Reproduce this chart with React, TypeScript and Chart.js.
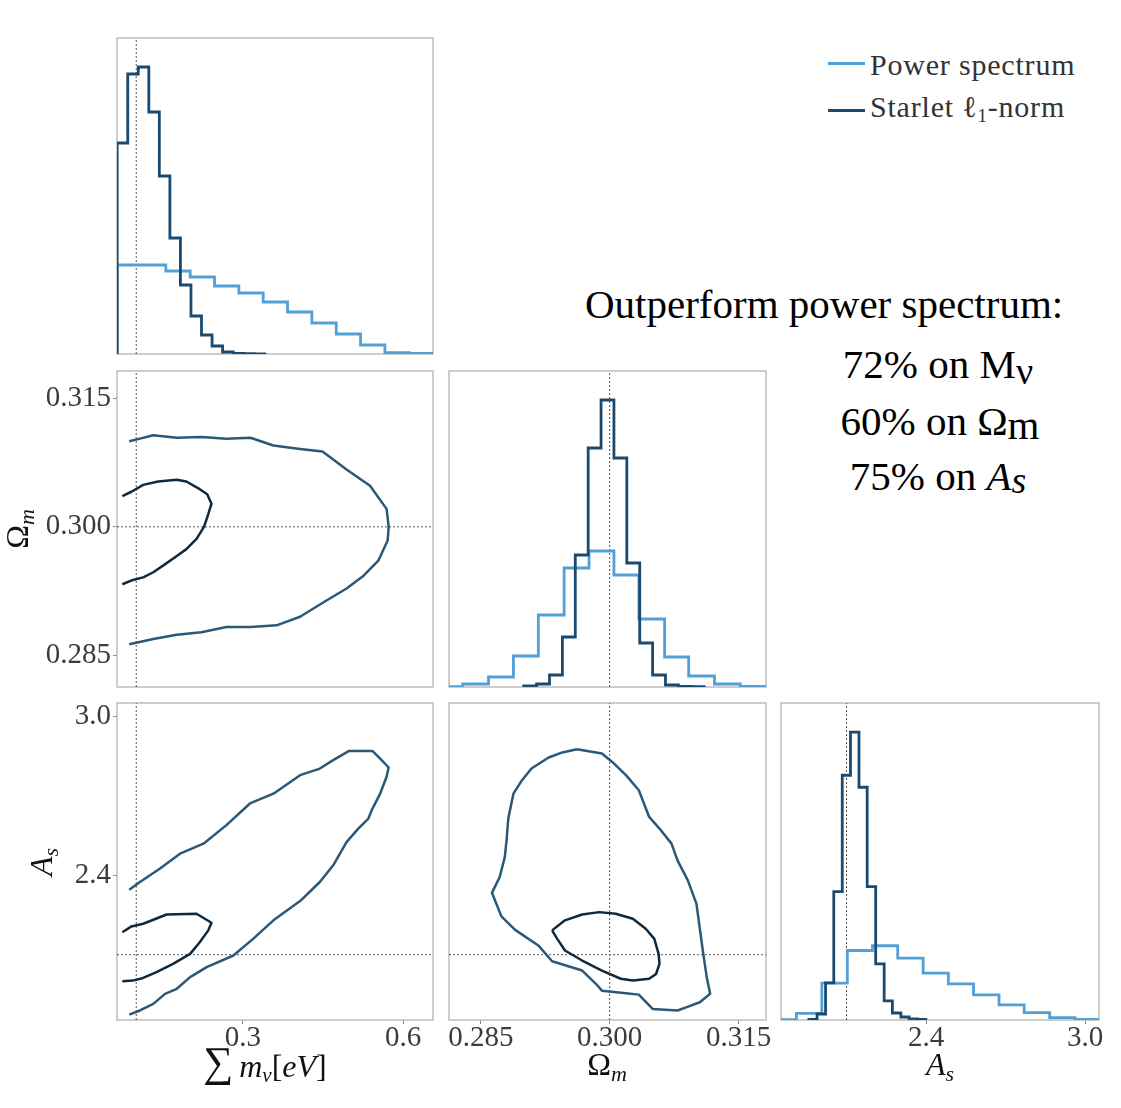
import React, { useEffect, useRef } from "react";
import { Chart, registerables } from "chart.js";

Chart.register(...registerables);

// ---------- colours ----------
const LIGHT = "#52a0d6";
const DARK = "#1b4a70";
const OUTER = "#2b5877";
const INNER = "#0f2a3f";
const TRUTH_COLOR = "#555555";
const FRAME_COLOR = "#bdbdbd";
const TICK_COLOR = "#3c3c3c";
const SERIF = "'Liberation Serif', 'Times New Roman', serif";

// ---------- truth values ----------
const TRUTH_MNU = 0.1;
const TRUTH_OM = 0.3;
const TRUTH_AS = 2.1;

// ---------- axis ranges ----------
const MNU_RANGE: [number, number] = [0.064, 0.656];
const OM_RANGE: [number, number] = [0.2813, 0.3182];
const AS_RANGE: [number, number] = [1.853, 3.052];
const HIST_RANGE: [number, number] = [0, 316];

// ---------- tick labels ----------
const MNU_TICKS = [0.3, 0.6];
const OM_TICKS = [0.285, 0.3, 0.315];
const AS_TICKS = [2.4, 3.0];

// ---------- 1D histograms (bin edges, heights) ----------
const MNU_PS_EDGES = [0.0643, 0.1099, 0.1555, 0.2011, 0.2467, 0.2923, 0.3379, 0.3835, 0.4291, 0.4747, 0.5203, 0.5659, 0.6115, 0.6571];
const MNU_PS_HEIGHTS = [89, 89, 83, 77, 68, 61, 52, 42, 31, 20, 9, 1.3, 0.5];
const MNU_ST_EDGES = [0.0643, 0.0841, 0.1038, 0.1236, 0.1433, 0.1631, 0.1828, 0.2026, 0.2223, 0.2421, 0.2618, 0.2816, 0.3013, 0.3211, 0.3408];
const MNU_ST_HEIGHTS = [211, 280, 287, 242, 178, 116, 69, 38, 19, 8, 2, 0.7, 0.3, 0.2];

const OM_PS_EDGES = [0.28, 0.2829, 0.2859, 0.2888, 0.2917, 0.2947, 0.2976, 0.3005, 0.3034, 0.3064, 0.3092, 0.3122, 0.3152, 0.3181];
const OM_PS_HEIGHTS = [0.3, 3, 10, 31, 72, 119, 136, 112, 68, 30, 11, 3, 0.5];
const OM_ST_EDGES = [0.29, 0.2915, 0.293, 0.2945, 0.296, 0.2975, 0.299, 0.3005, 0.302, 0.3035, 0.305, 0.3065, 0.308, 0.3095, 0.311];
const OM_ST_HEIGHTS = [1, 3, 12, 50, 132, 239, 287, 229, 124, 44, 12, 2, 0.5, 0.3];

const AS_PS_EDGES = [1.816, 1.911, 2.007, 2.103, 2.198, 2.293, 2.389, 2.484, 2.579, 2.675, 2.77, 2.866, 2.961, 3.056];
const AS_PS_HEIGHTS = [0.3, 6.7, 36.7, 69.3, 74, 61.7, 46.7, 36, 25, 15, 7.3, 2.3, 0.7];
const AS_ST_EDGES = [1.958, 1.989, 2.021, 2.052, 2.084, 2.115, 2.147, 2.178, 2.21, 2.242, 2.273, 2.305, 2.336, 2.368, 2.399];
const AS_ST_HEIGHTS = [0.5, 6, 37, 128, 244, 287, 232, 133, 56, 19, 7, 3, 1, 0.5];

// ---------- 2D contours [x, y] ----------
const MNU_OM_OUTER: [number, number][] = [
  [0.087, 0.31], [0.107, 0.3103], [0.132, 0.3107], [0.176, 0.3104], [0.223, 0.3105], [0.269, 0.3103],
  [0.314, 0.3104], [0.357, 0.3095], [0.407, 0.3091], [0.449, 0.3088], [0.494, 0.3067], [0.538, 0.3048],
  [0.569, 0.3021], [0.573, 0.3], [0.571, 0.2984], [0.554, 0.2961], [0.526, 0.2943], [0.494, 0.2928],
  [0.451, 0.2912], [0.407, 0.2895], [0.363, 0.2885], [0.314, 0.2883], [0.269, 0.2883], [0.222, 0.2877],
  [0.176, 0.2874], [0.132, 0.2869], [0.087, 0.2863],
];
const MNU_OM_INNER: [number, number][] = [
  [0.074, 0.3036], [0.091, 0.3041], [0.113, 0.3049], [0.141, 0.3053], [0.176, 0.3055], [0.194, 0.3053],
  [0.219, 0.3044], [0.233, 0.3038], [0.241, 0.3027], [0.235, 0.3015], [0.227, 0.3], [0.213, 0.2986],
  [0.194, 0.2974], [0.176, 0.2966], [0.151, 0.2955], [0.132, 0.2947], [0.113, 0.2941], [0.094, 0.2938],
  [0.074, 0.2933],
];
const MNU_AS_OUTER: [number, number][] = [
  [0.087, 2.346], [0.107, 2.375], [0.144, 2.425], [0.182, 2.482], [0.226, 2.52], [0.269, 2.59],
  [0.313, 2.672], [0.357, 2.709], [0.407, 2.779], [0.444, 2.804], [0.469, 2.836], [0.498, 2.87],
  [0.543, 2.87], [0.557, 2.842], [0.573, 2.808], [0.569, 2.773], [0.557, 2.709], [0.541, 2.646],
  [0.535, 2.615], [0.516, 2.577], [0.494, 2.526], [0.469, 2.438], [0.444, 2.375], [0.407, 2.303],
  [0.357, 2.23], [0.319, 2.16], [0.282, 2.097], [0.232, 2.053], [0.201, 2.015], [0.176, 1.971],
  [0.154, 1.952], [0.132, 1.914], [0.107, 1.889], [0.087, 1.873],
];
const MNU_AS_INNER: [number, number][] = [
  [0.074, 2.185], [0.091, 2.207], [0.113, 2.217], [0.157, 2.252], [0.213, 2.255], [0.241, 2.221],
  [0.235, 2.192], [0.219, 2.147], [0.201, 2.103], [0.169, 2.065], [0.138, 2.034], [0.113, 2.012],
  [0.094, 2.002], [0.074, 2.0],
];
const OM_AS_OUTER: [number, number][] = [
  [0.2962, 2.877], [0.2991, 2.861], [0.3003, 2.829], [0.3019, 2.779], [0.3034, 2.722], [0.3046, 2.621],
  [0.3058, 2.577], [0.3072, 2.52], [0.3079, 2.457], [0.3091, 2.381], [0.3101, 2.293], [0.3109, 2.103],
  [0.3113, 2.015], [0.3117, 1.952], [0.3105, 1.92], [0.3089, 1.901], [0.3079, 1.889], [0.305, 1.895],
  [0.3034, 1.949], [0.3019, 1.954], [0.2991, 1.964], [0.2984, 1.99], [0.2968, 2.04], [0.2933, 2.075],
  [0.2917, 2.135], [0.289, 2.194], [0.2874, 2.245], [0.2863, 2.334], [0.2872, 2.394], [0.2878, 2.47],
  [0.288, 2.533], [0.2882, 2.615], [0.2888, 2.709], [0.2898, 2.76], [0.2909, 2.804], [0.2929, 2.846],
  [0.2945, 2.865], [0.2962, 2.877],
];
const OM_AS_INNER: [number, number][] = [
  [0.2933, 2.192], [0.2948, 2.23], [0.2968, 2.252], [0.2988, 2.261], [0.3007, 2.255], [0.3027, 2.236],
  [0.3042, 2.198], [0.3052, 2.16], [0.3057, 2.103], [0.3058, 2.065], [0.3054, 2.027], [0.3046, 2.009],
  [0.3027, 2.002], [0.3013, 2.009], [0.2991, 2.04], [0.2968, 2.078], [0.2948, 2.116], [0.2939, 2.16],
  [0.2933, 2.192],
];

// ---------- helpers ----------
type Pt = { x: number; y: number };

function stepPoints(edges: number[], heights: number[]): Pt[] {
  const pts: Pt[] = [{ x: edges[0], y: 0 }];
  heights.forEach((h, i) => pts.push({ x: edges[i], y: h }));
  pts.push({ x: edges[edges.length - 1], y: heights[heights.length - 1] });
  pts.push({ x: edges[edges.length - 1], y: 0 });
  return pts;
}

const toPts = (arr: [number, number][]): Pt[] => arr.map(([x, y]) => ({ x, y }));

function lineDs(pts: Pt[], color: string, width: number, extra: any = {}) {
  return {
    data: pts,
    borderColor: color,
    backgroundColor: color,
    borderWidth: width,
    pointRadius: 0,
    fill: false,
    tension: 0,
    borderJoinStyle: "round",
    ...extra,
  };
}

function histDs(edges: number[], heights: number[], color: string, order: number) {
  return lineDs(stepPoints(edges, heights), color, 2.8, { stepped: true, order, borderJoinStyle: "miter" });
}

function vTruth(x: number, range: [number, number]) {
  return lineDs([{ x, y: range[0] }, { x, y: range[1] }], TRUTH_COLOR, 1, { borderDash: [2, 2], order: 20 });
}
function hTruth(y: number, range: [number, number]) {
  return lineDs([{ x: range[0], y }, { x: range[1], y }], TRUTH_COLOR, 1, { borderDash: [2, 2], order: 20 });
}

// canvas margins around each panel
const ML = 95;
const MT = 8;
const MR = 45;
const MB = 45;

type PanelSpec = {
  left: number;
  top: number;
  w: number;
  h: number;
  xr: [number, number];
  yr: [number, number];
  xTicks?: number[];
  xDec?: number;
  yTicks?: number[];
  yDec?: number;
  datasets: any[];
};

const framePlugin = {
  id: "frame",
  beforeDatasetsDraw(chart: any) {
    const { ctx, chartArea: a } = chart;
    ctx.save();
    ctx.strokeStyle = FRAME_COLOR;
    ctx.lineWidth = 1.5;
    ctx.strokeRect(a.left, a.top, a.right - a.left, a.bottom - a.top);
    ctx.restore();
  },
};

function scaleOpts(range: [number, number], ticks: number[] | undefined, dec: number, axis: "x" | "y") {
  const has = !!ticks;
  return {
    type: "linear",
    min: range[0],
    max: range[1],
    display: has,
    afterFit: (s: any) => {
      if (!has) {
        s.width = 0;
        s.height = 0;
      } else if (axis === "x") s.height = MB;
      else s.width = ML;
      s.paddingLeft = 0;
      s.paddingRight = 0;
      s.paddingTop = 0;
      s.paddingBottom = 0;
    },
    afterBuildTicks: (s: any) => {
      if (ticks) s.ticks = ticks.map((v) => ({ value: v }));
    },
    ticks: {
      font: { family: SERIF, size: 29 },
      color: TICK_COLOR,
      padding: axis === "x" ? -3 : 2,
      maxRotation: 0,
      minRotation: 0,
      autoSkip: false,
      callback: (v: any) => Number(v).toFixed(dec),
    },
    grid: { display: true, drawOnChartArea: false, drawTicks: true, tickLength: 4, color: "#8a8a8a", lineWidth: 1 },
    border: { display: false },
  };
}

function Panel({ spec }: { spec: PanelSpec }) {
  const ref = useRef<HTMLCanvasElement>(null);
  const cw = spec.w + ML + MR;
  const ch = spec.h + MT + MB;
  useEffect(() => {
    const hasX = !!spec.xTicks;
    const hasY = !!spec.yTicks;
    const chart = new Chart(ref.current as HTMLCanvasElement, {
      type: "line",
      data: { datasets: spec.datasets },
      options: {
        animation: false,
        responsive: false,
        maintainAspectRatio: false,
        events: [],
        layout: { padding: { left: hasY ? 0 : ML, right: MR, top: MT, bottom: hasX ? 0 : MB } },
        plugins: { legend: { display: false }, tooltip: { enabled: false } },
        scales: {
          x: scaleOpts(spec.xr, spec.xTicks, spec.xDec ?? 1, "x"),
          y: scaleOpts(spec.yr, spec.yTicks, spec.yDec ?? 1, "y"),
        },
      } as any,
      plugins: [framePlugin],
    });
    return () => chart.destroy();
  }, []);
  return (
    <canvas
      ref={ref}
      width={cw}
      height={ch}
      style={{ position: "absolute", left: spec.left - ML, top: spec.top - MT, width: cw, height: ch }}
    />
  );
}

// ---------- text helpers ----------
function Txt({
  x,
  y,
  size,
  children,
  center = false,
  rotate = false,
  color = "#111",
  spacing = 0,
}: {
  x: number;
  y: number;
  size: number;
  children: React.ReactNode;
  center?: boolean;
  rotate?: boolean;
  color?: string;
  spacing?: number;
}) {
  const base: React.CSSProperties = {
    position: "absolute",
    whiteSpace: "nowrap",
    fontFamily: SERIF,
    fontSize: size,
    lineHeight: `${size}px`,
    color,
    letterSpacing: spacing,
  };
  if (rotate) {
    return (
      <div style={{ position: "absolute", left: x, top: y, width: 0, height: 0, transform: "rotate(-90deg)", transformOrigin: "0 0" }}>
        <div style={{ ...base, left: 0, top: -0.8375 * size, transform: "translateX(-50%)" }}>{children}</div>
      </div>
    );
  }
  return (
    <div style={{ ...base, left: x, top: y - 0.8375 * size, transform: center ? "translateX(-50%)" : undefined }}>
      {children}
    </div>
  );
}

const Sub = ({ children, size, drop, italic = true }: { children: React.ReactNode; size: number; drop: number; italic?: boolean }) => (
  <span style={{ fontSize: size, lineHeight: 0, position: "relative", top: drop, fontStyle: italic ? "italic" : "normal" }}>
    {children}
  </span>
);
const I = ({ children }: { children: React.ReactNode }) => <span style={{ fontStyle: "italic" }}>{children}</span>;

// ---------- panels ----------
const PANELS: PanelSpec[] = [
  {
    left: 117, top: 38, w: 316, h: 316, xr: MNU_RANGE, yr: HIST_RANGE,
    datasets: [
      histDs(MNU_ST_EDGES, MNU_ST_HEIGHTS, DARK, 1),
      histDs(MNU_PS_EDGES, MNU_PS_HEIGHTS, LIGHT, 2),
      vTruth(TRUTH_MNU, HIST_RANGE),
    ],
  },
  {
    left: 117, top: 371, w: 316, h: 316, xr: MNU_RANGE, yr: OM_RANGE, yTicks: OM_TICKS, yDec: 3,
    datasets: [
      lineDs(toPts(MNU_OM_INNER), INNER, 2.5, { order: 1 }),
      lineDs(toPts(MNU_OM_OUTER), OUTER, 2.5, { order: 2 }),
      vTruth(TRUTH_MNU, OM_RANGE),
      hTruth(TRUTH_OM, MNU_RANGE),
    ],
  },
  {
    left: 449, top: 371, w: 317, h: 316, xr: OM_RANGE, yr: HIST_RANGE,
    datasets: [
      histDs(OM_ST_EDGES, OM_ST_HEIGHTS, DARK, 1),
      histDs(OM_PS_EDGES, OM_PS_HEIGHTS, LIGHT, 2),
      vTruth(TRUTH_OM, HIST_RANGE),
    ],
  },
  {
    left: 117, top: 703, w: 316, h: 317, xr: MNU_RANGE, yr: AS_RANGE,
    xTicks: MNU_TICKS, xDec: 1, yTicks: AS_TICKS, yDec: 1,
    datasets: [
      lineDs(toPts(MNU_AS_INNER), INNER, 2.5, { order: 1 }),
      lineDs(toPts(MNU_AS_OUTER), OUTER, 2.5, { order: 2 }),
      vTruth(TRUTH_MNU, AS_RANGE),
      hTruth(TRUTH_AS, MNU_RANGE),
    ],
  },
  {
    left: 449, top: 703, w: 317, h: 317, xr: OM_RANGE, yr: AS_RANGE, xTicks: OM_TICKS, xDec: 3,
    datasets: [
      lineDs(toPts(OM_AS_INNER), INNER, 2.5, { order: 1 }),
      lineDs(toPts(OM_AS_OUTER), OUTER, 2.5, { order: 2 }),
      vTruth(TRUTH_OM, AS_RANGE),
      hTruth(TRUTH_AS, OM_RANGE),
    ],
  },
  {
    left: 781, top: 703, w: 318, h: 317, xr: AS_RANGE, yr: HIST_RANGE, xTicks: AS_TICKS, xDec: 1,
    datasets: [
      histDs(AS_ST_EDGES, AS_ST_HEIGHTS, DARK, 1),
      histDs(AS_PS_EDGES, AS_PS_HEIGHTS, LIGHT, 2),
      vTruth(TRUTH_AS, HIST_RANGE),
    ],
  },
];

const LEGEND_LABELS = ["Power spectrum", "Starlet"];

export default function App() {
  return (
    <div style={{ position: "absolute", left: 0, top: 0, width: 1121, height: 1108, background: "#fff", overflow: "hidden" }}>
      {PANELS.map((p, i) => (
        <Panel key={i} spec={p} />
      ))}

      {/* axis titles */}
      <Txt x={265} y={1077} size={32} center>
        <span style={{ fontSize: 42, lineHeight: 0, position: "relative", top: -1 }}>∑</span>
        <span style={{ marginLeft: 6 }}>
          <I>m</I>
        </span>
        <Sub size={21} drop={5}>ν</Sub>
        <span>[</span>
        <I>eV</I>
        <span>]</span>
      </Txt>
      <Txt x={607} y={1075} size={32} center>
        Ω<Sub size={22} drop={6}>m</Sub>
      </Txt>
      <Txt x={940} y={1075} size={32} center>
        <I>A</I>
        <Sub size={22} drop={6}>s</Sub>
      </Txt>
      <Txt x={28} y={529} size={32} rotate>
        Ω<Sub size={22} drop={6}>m</Sub>
      </Txt>
      <Txt x={52} y={862} size={32} rotate>
        <I>A</I>
        <Sub size={22} drop={6}>s</Sub>
      </Txt>

      {/* legend */}
      <div style={{ position: "absolute", left: 828, top: 62, width: 37, height: 2.5, background: LIGHT }} />
      <div style={{ position: "absolute", left: 828, top: 109, width: 37, height: 2.5, background: DARK }} />
      <Txt x={870} y={75} size={30} color="#333" spacing={0.8}>
        {LEGEND_LABELS[0]}
      </Txt>
      <Txt x={870} y={117} size={30} color="#333" spacing={0.8}>
        {LEGEND_LABELS[1]} ℓ<Sub size={19} drop={5} italic={false}>1</Sub>-norm
      </Txt>

      {/* annotation */}
      <Txt x={585} y={318} size={41} color="#000">
        Outperform power spectrum:
      </Txt>
      <Txt x={938} y={378} size={41} color="#000" center>
        72% on M<Sub size={38} drop={6} italic={false}>ν</Sub>
      </Txt>
      <Txt x={940} y={435} size={41} color="#000" center>
        60% on Ω<Sub size={41} drop={4} italic={false}>m</Sub>
      </Txt>
      <Txt x={938} y={490} size={41} color="#000" center>
        75% on <I>A</I>
        <Sub size={38} drop={3}>s</Sub>
      </Txt>
    </div>
  );
}
